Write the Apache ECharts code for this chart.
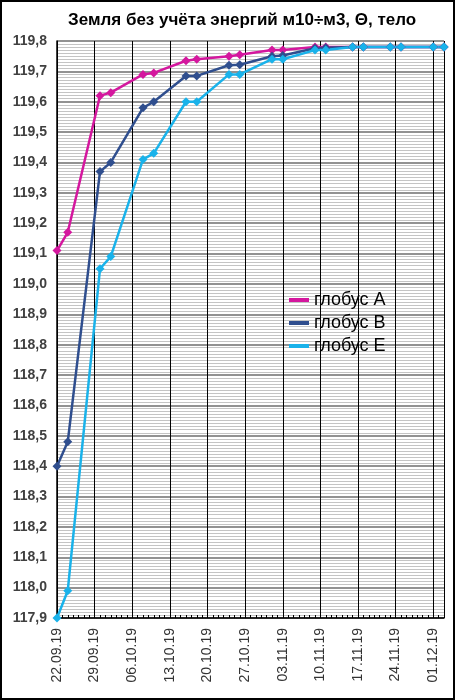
<!DOCTYPE html>
<html>
<head>
<meta charset="utf-8">
<script src="https://cdn.jsdelivr.net/npm/echarts@6/dist/echarts.min.js"></script>
<style>
  html, body { margin: 0; padding: 0; background: #fff; }
  #main { width: 455px; height: 700px; box-sizing: border-box; border: 2px solid #000; }
</style>
</head>
<body>
<div id="main"></div>
<script>
// даты измерений
var dates = ['22.09.19', '24.09.19', '30.09.19', '02.10.19', '08.10.19', '10.10.19',
             '16.10.19', '18.10.19', '24.10.19', '26.10.19', '01.11.19', '03.11.19',
             '09.11.19', '11.11.19', '16.11.19', '18.11.19', '23.11.19', '25.11.19',
             '01.12.19', '03.12.19'];
var globusA = [119.11, 119.17, 119.62, 119.63, 119.69, 119.695, 119.735, 119.74, 119.75, 119.755,
               119.77, 119.77, 119.78, 119.78, 119.78, 119.78, 119.78, 119.78, 119.78, 119.78];
var globusB = [118.40, 118.48, 119.37, 119.40, 119.58, 119.60, 119.685, 119.685, 119.72, 119.722,
               119.75, 119.752, 119.776, 119.778, 119.78, 119.78, 119.78, 119.78, 119.78, 119.78];
var globusE = [117.90, 117.99, 119.05, 119.09, 119.41, 119.43, 119.60, 119.60, 119.69, 119.69,
               119.74, 119.74, 119.77, 119.77, 119.78, 119.78, 119.78, 119.78, 119.78, 119.78];
var tickLabels = ['22.09.19', '29.09.19', '06.10.19', '13.10.19', '20.10.19', '27.10.19',
                  '03.11.19', '10.11.19', '17.11.19', '24.11.19', '01.12.19'];

var seriesNames = ['глобус A', 'глобус B', 'глобус E'];
var colors = ['#D4179E', '#2F4E8E', '#19B2EA'];

// день от 22.09.19
var toDay = function (s) {
    var p = s.split('.');
    var d = new Date(2000 + (+p[2]), p[1] - 1, +p[0]);
    return Math.round((d - new Date(2019, 8, 22)) / 86400000);
};
var days = dates.map(toDay);
var pairs = function (vals) {
    return vals.map(function (v, i) { return [days[i], v]; });
};

var chart = echarts.init(document.getElementById('main'));
var font = '"Liberation Sans", Arial, sans-serif';

chart.setOption({
    animation: false,
    color: colors,
    title: {
        text: 'Земля без учёта энергий м10÷м3, Θ, тело',
        left: 61,
        top: 5,
        textStyle: { fontFamily: font, fontSize: 17, fontWeight: 'bold', color: '#000' }
    },
    legend: {
        orient: 'vertical',
        left: 282,
        top: 284,
        itemWidth: 20,
        itemHeight: 4,
        itemGap: 5,
        icon: 'rect',
        data: seriesNames,
        textStyle: { fontFamily: font, fontSize: 18, color: '#000' }
    },
    grid: { left: 55, right: 9, top: 39, bottom: 80 },
    xAxis: {
        type: 'value',
        min: 0,
        max: 72,
        interval: 7,
        axisLine: { lineStyle: { color: '#000', width: 1.5 } },
        axisTick: { show: false, inside: true },
        minorTick: { show: true, splitNumber: 7, length: 3, lineStyle: { color: '#000', width: 1 } },
        axisLabel: {
            rotate: 90,
            fontFamily: font,
            fontSize: 14,
            color: '#333',
            margin: 10,
            showMaxLabel: false,
            formatter: function (v) { return v % 7 === 0 ? (tickLabels[v / 7] || '') : ''; }
        },
        splitLine: { show: true, lineStyle: { color: '#000', width: 1 } }
    },
    yAxis: {
        type: 'value',
        min: 117.9,
        max: 119.8,
        interval: 0.1,
        axisLine: { show: true, lineStyle: { color: '#000', width: 1.5 } },
        axisTick: { show: false },
        minorTick: { show: false, splitNumber: 10 },
        minorSplitLine: { show: true, lineStyle: { color: '#c4c4c4', width: 1 } },
        splitLine: { show: true, lineStyle: { color: '#6e6e6e', width: 1.5 } },
        axisLabel: {
            fontFamily: font,
            fontSize: 14,
            fontWeight: 'bold',
            color: '#404040',
            margin: 10,
            formatter: function (v) { return v.toFixed(1).replace('.', ','); }
        }
    },
    series: [
        { name: seriesNames[0], type: 'line', data: pairs(globusA), symbol: 'diamond', symbolSize: 9, lineStyle: { width: 2.5 } },
        { name: seriesNames[1], type: 'line', data: pairs(globusB), symbol: 'diamond', symbolSize: 9, lineStyle: { width: 2.5 } },
        { name: seriesNames[2], type: 'line', data: pairs(globusE), symbol: 'diamond', symbolSize: 9, lineStyle: { width: 2.5 } }
    ]
});
</script>
</body>
</html>
